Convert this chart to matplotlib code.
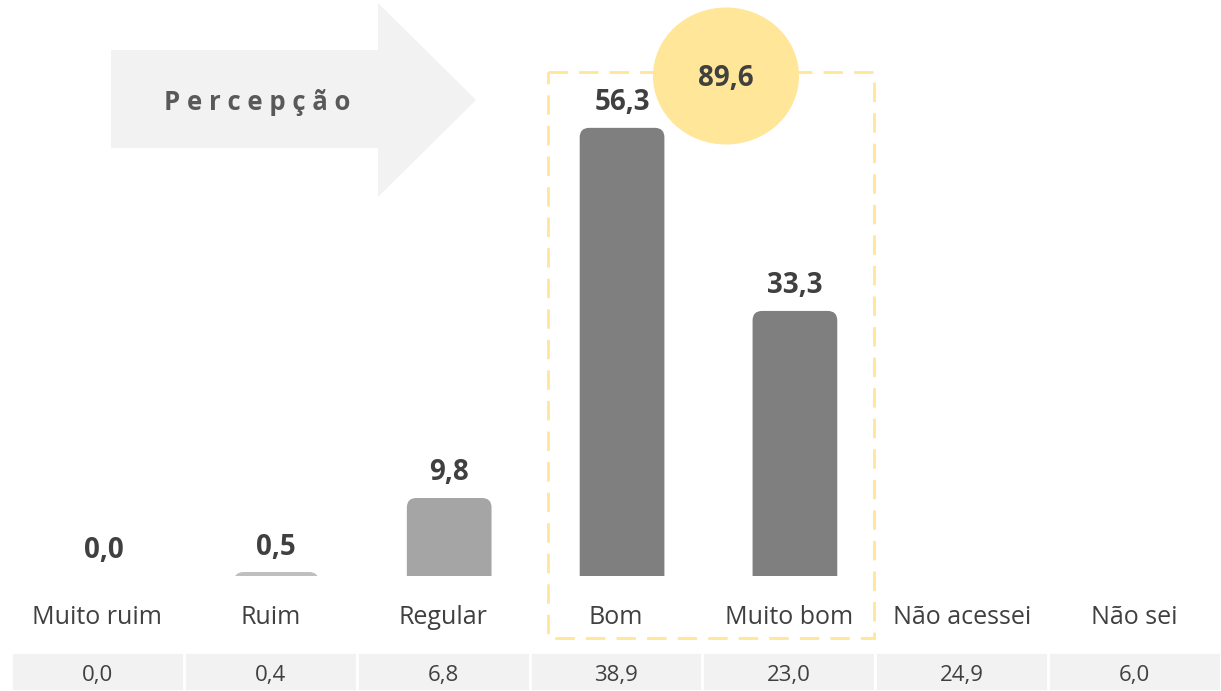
import matplotlib.pyplot as plt
from matplotlib.patches import FancyBboxPatch, Rectangle, Ellipse, Polygon

plt.rcParams['font.family'] = ['Open Sans', 'DejaVu Sans']

# data
categorias = ["Muito ruim", "Ruim", "Regular", "Bom", "Muito bom", "Não acessei", "Não sei"]
percepcao = [0.0, 0.5, 9.8, 56.3, 33.3]          # bars (only the first five)
tabela = [0.0, 0.4, 6.8, 38.9, 23.0, 24.9, 6.0]  # row at the bottom
cores = ["#bfbfbf", "#bfbfbf", "#a5a5a5", "#7f7f7f", "#7f7f7f"]

W, H = 1221, 691
fig = plt.figure(figsize=(W / 100, H / 100), dpi=100)

# overlay in pixel coords for the decorations
deco = fig.add_axes([0, 0, 1, 1], zorder=0)
deco.set_xlim(0, W)
deco.set_ylim(H, 0)
deco.axis("off")

arrow = Polygon([(111, 50), (378, 50), (378, 3), (476, 100), (378, 197), (378, 148), (111, 148)],
                closed=True, facecolor="#f2f2f2", edgecolor="none")
deco.add_patch(arrow)
deco.text(164, 102, "P e r c e p ç ã o", fontsize=18.5, fontweight="bold", color="#595959",
          ha="left", va="center")

box = Rectangle((548, 72), 326, 566, fill=False, edgecolor="#ffe699", linewidth=2,
                linestyle=(0, (7, 4)))
deco.add_patch(box)
deco.add_patch(Ellipse((726, 76), 146, 137, facecolor="#ffe699", edgecolor="none"))
deco.text(726, 78, f"{percepcao[3] + percepcao[4]:.1f}".replace(".", ","), fontsize=20,
          fontweight="bold", color="#404040", ha="center", va="center")

# main axes: baseline at 576 px from top, 7.96 px per unit
px_unit = 7.96
base = 576
ax = fig.add_axes([11 / W, (H - base) / H, (W - 11) / W, base / H], zorder=1)
ax.set_facecolor("none")
ax.set_xlim(-0.5, 6.5)
ax.set_ylim(0, base / px_unit)
ax.axis("off")

cell_px = (W - 11) / 7
aspect = (1 / px_unit) / (1 / cell_px)
bw = 0.49
shift = 0.035
for i, v in enumerate(percepcao):
    if v > 0:
        p = FancyBboxPatch((i + shift - bw / 2, -3), bw, v + 3,
                           boxstyle="round,pad=0,rounding_size=0.055",
                           mutation_aspect=aspect, facecolor=cores[i], edgecolor="none")
        ax.add_patch(p)
    ax.annotate(f"{v:.1f}".replace(".", ","), (i + shift, v), xytext=(0, 18),
                textcoords="offset points", ha="center", va="center", fontsize=20,
                fontweight="bold", color="#404040")

for i, c in enumerate(categorias):
    ax.text(i, -42 / px_unit, c, ha="center", va="center", fontsize=18, color="#404040",
            clip_on=False)

top_cell = -(652 - base) / px_unit
bot_cell = -(H - base) / px_unit
for i, t in enumerate(tabela):
    ax.add_patch(Rectangle((i - 0.5, bot_cell), 1, top_cell - bot_cell, facecolor="#f2f2f2",
                           edgecolor="white", linewidth=2, clip_on=False))
    ax.text(i, -(676 - base) / px_unit, f"{t:.1f}".replace(".", ","), ha="center", va="center",
            fontsize=16, color="#404040", clip_on=False)

fig.savefig("out.png", dpi=100)
